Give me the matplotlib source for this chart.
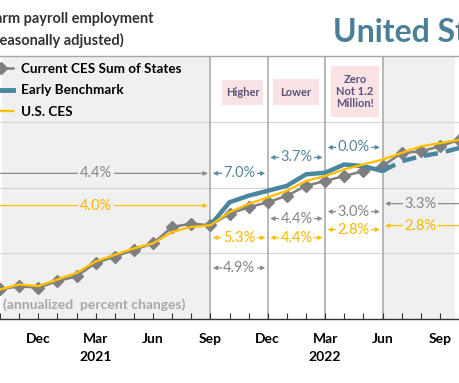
import matplotlib
matplotlib.use('Agg')
import matplotlib.pyplot as plt
from matplotlib.patches import Rectangle
from matplotlib.lines import Line2D

plt.rcParams['font.family'] = ['Lato', 'DejaVu Sans']

# ---------------- data ----------------
months = ['Oct 2020', 'Nov 2020', 'Dec 2020', 'Jan 2021', 'Feb 2021', 'Mar 2021',
          'Apr 2021', 'May 2021', 'Jun 2021', 'Jul 2021', 'Aug 2021', 'Sep 2021',
          'Oct 2021', 'Nov 2021', 'Dec 2021', 'Jan 2022', 'Feb 2022', 'Mar 2022',
          'Apr 2022', 'May 2022', 'Jun 2022', 'Jul 2022', 'Aug 2022', 'Sep 2022',
          'Oct 2022']
# employment level (millions, approximate scale)
sum_of_states = [141.8, 142.0, 141.9, 142.3, 142.6, 143.4, 143.8, 144.2, 144.6,
                 145.6, 145.8, 145.7, 146.4, 146.8, 147.1, 147.5, 148.1, 148.4,
                 148.7, 149.0, 149.3, 150.1, 150.2, 150.5, 150.9]
us_ces = [141.8, 142.1, 142.0, 142.4, 142.8, 143.5, 143.9, 144.3, 144.6, 145.3,
          145.6, 145.7, 146.5, 147.0, 147.4, 147.8, 148.4, 148.7, 149.1, 149.4,
          149.7, 150.1, 150.5, 150.7, 150.9]
benchmark_months = months[11:21]          # Sep 2021 - Jun 2022
early_benchmark = [145.7, 147.1, 147.5, 147.8, 148.1, 148.8, 148.9, 149.4, 149.3, 149.0]
projection_months = months[20:25]         # Jun 2022 - Oct 2022
benchmark_projection = [149.0, 149.6, 149.9, 150.1, 150.4]

tick_months = ['Dec 2020', 'Mar 2021', 'Jun 2021', 'Sep 2021', 'Dec 2021',
               'Mar 2022', 'Jun 2022', 'Sep 2022']
tick_labels = ['Dec', 'Mar', 'Jun', 'Sep', 'Dec', 'Mar', 'Jun', 'Sep']
year_labels = {'Mar 2021': '2021', 'Mar 2022': '2022'}
period_bounds = ['Sep 2021', 'Dec 2021', 'Mar 2022', 'Jun 2022']

# (start month, end month, level, text, colour key)
growth_labels = [
    (None, 'Sep 2021', 148.86, '4.4%', 'gray'),
    (None, 'Sep 2021', 146.90, '4.0%', 'yellow'),
    ('Sep 2021', 'Dec 2021', 148.86, '7.0%', 'teal'),
    ('Dec 2021', 'Mar 2022', 149.83, '3.7%', 'teal'),
    ('Mar 2022', 'Jun 2022', 150.44, '0.0%', 'teal'),
    ('Sep 2021', 'Dec 2021', 144.95, '5.3%', 'yellow'),
    ('Dec 2021', 'Mar 2022', 144.95, '4.4%', 'yellow'),
    ('Mar 2022', 'Jun 2022', 145.44, '2.8%', 'yellow'),
    ('Sep 2021', 'Dec 2021', 143.11, '4.9%', 'gray'),
    ('Dec 2021', 'Mar 2022', 146.11, '4.4%', 'gray'),
    ('Mar 2022', 'Jun 2022', 146.53, '3.0%', 'gray'),
    ('Jun 2022', None, 147.02, '3.3%', 'gray'),
    ('Jun 2022', None, 145.68, '2.8%', 'yellow'),
]

# ---------------- style ----------------
C_GRAY = '#7f7f7f'
C_TEAL = '#4a86a0'
C_YEL = '#ffc000'
TXT = {'gray': '#858585', 'teal': '#54869c', 'yellow': '#f5b800'}
LINE = {'gray': '#8c8c8c', 'teal': '#5a8ea5', 'yellow': '#ffc000'}
BG_GRAY = '#f0f0f0'

idx = {m: i for i, m in enumerate(months)}

fig = plt.figure(figsize=(4.59, 3.83), dpi=100)
ax = fig.add_axes([0, 64 / 383, 1, 263 / 383])
XL = (0.124, 23.78)
ax.set_xlim(*XL)
ax.set_ylim(140, 156)

# backgrounds
ax.axvspan(XL[0], idx['Sep 2021'], color=BG_GRAY, lw=0, zorder=0)
ax.axvspan(idx['Jun 2022'], XL[1], color=BG_GRAY, lw=0, zorder=0)
for g in (144, 148, 152):
    ax.axhline(g, color='#d4d4d4', lw=0.8, zorder=1)
for m in period_bounds:
    ax.axvline(idx[m], color='#a6a6a6', lw=1.1, zorder=1)

# series
xs = list(range(len(months)))
ax.plot(xs, sum_of_states, color=C_GRAY, lw=1.8, marker='D', ms=6,
        mfc=C_GRAY, mec=C_GRAY, zorder=3)
ax.plot([idx[m] for m in benchmark_months], early_benchmark, color=C_TEAL,
        lw=3.2, zorder=4, solid_capstyle='butt')
ax.plot([idx[m] for m in projection_months], benchmark_projection, color=C_TEAL,
        lw=3.2, ls=(0, (3.2, 1.8)), zorder=4)
ax.plot(xs, us_ces, color=C_YEL, lw=1.7, zorder=5)

# growth annotations
for a, b, lvl, txt, ck in growth_labels:
    x0 = idx[a] + 0.13 if a else -3
    x1 = idx[b] - 0.13 if b else 30
    ax.annotate('', xy=(x0, lvl), xytext=(x1, lvl),
                arrowprops=dict(arrowstyle='<|-|>', color=LINE[ck], lw=0.9,
                                mutation_scale=6, shrinkA=0, shrinkB=0),
                annotation_clip=False, zorder=6)
    if a is None:
        xc = 5.02
        bg = BG_GRAY
    elif b is None:
        xc = 21.98
        bg = BG_GRAY
    else:
        xc = (idx[a] + idx[b]) / 2
        bg = 'white'
    ax.text(xc, lvl, txt, ha='center', va='center', color=TXT[ck], fontsize=10.5,
            zorder=7, bbox=dict(facecolor=bg, edgecolor='none', pad=1.0))

# pink notes
notes = [((222, 80, 263, 105), 'Higher'),
         ((273, 79, 319, 105), 'Lower'),
         ((331, 66, 379, 117), 'Zero\nNot 1.2\nMillion!')]
for (l, t, r, btm), txt in notes:
    fx, fy = l / 459, (319 - btm) / 263
    w, h = (r - l) / 459, (btm - t) / 263
    ax.add_patch(Rectangle((fx, fy), w, h, transform=ax.transAxes,
                           facecolor='#fbe3e5', edgecolor='none', zorder=6))
    ax.text(fx + w / 2, fy + h / 2, txt, transform=ax.transAxes, ha='center',
            va='center', fontsize=8, fontweight='bold', color='#55557a',
            linespacing=1.15, zorder=7)

ax.text(3 / 459, (319 - 305) / 263, '(annualized  percent changes)',
        transform=ax.transAxes, ha='left', va='center', fontsize=10,
        fontweight='bold', color='#a8a8a8', zorder=7)

# axes styling
for s in ('left', 'right'):
    ax.spines[s].set_visible(False)
ax.spines['top'].set_color('#a6a6a6')
ax.spines['top'].set_linewidth(1.0)
ax.spines['bottom'].set_color('#333333')
ax.spines['bottom'].set_linewidth(1.0)
ax.set_yticks([])
ax.set_xticks(xs, minor=True)
ax.set_xticks([idx[m] for m in tick_months])
ax.set_xticklabels(tick_labels, fontsize=10, fontweight='bold')
ax.tick_params(axis='x', which='both', direction='in', length=4, width=0.8,
               color='#333333', pad=10)
for m, yl in year_labels.items():
    ax.text(idx[m], -0.145, yl, transform=ax.get_xaxis_transform(), ha='center',
            va='center', fontsize=10, fontweight='bold')

# legend
handles = [Line2D([], [], color=C_GRAY, lw=1.8, marker='D', ms=6),
           Line2D([], [], color=C_TEAL, lw=3.5),
           Line2D([], [], color=C_YEL, lw=1.7)]
ax.legend(handles, ['Current CES Sum of States', 'Early Benchmark', 'U.S. CES'],
          loc='upper left', bbox_to_anchor=(-0.025, 0.974), frameon=False,
          prop={'weight': 'bold', 'size': 9.7}, handlelength=1.8,
          handletextpad=0.6, labelspacing=0.70, borderpad=0, borderaxespad=0)

# titles
fig.text(153 / 459, 1 - 19 / 383, 'Nonfarm payroll employment', ha='right',
         va='center', fontsize=10.5, fontweight='bold', color='#333333')
fig.text(124 / 459, 1 - 40 / 383, '(seasonally adjusted)', ha='right',
         va='center', fontsize=10.5, fontweight='bold', color='#333333')
fig.text(333 / 459, 1 - 42 / 383, 'United States', ha='left', va='baseline',
         fontsize=23, fontweight='bold', color='#4a7f96')

fig.savefig('out.png', dpi=100)
